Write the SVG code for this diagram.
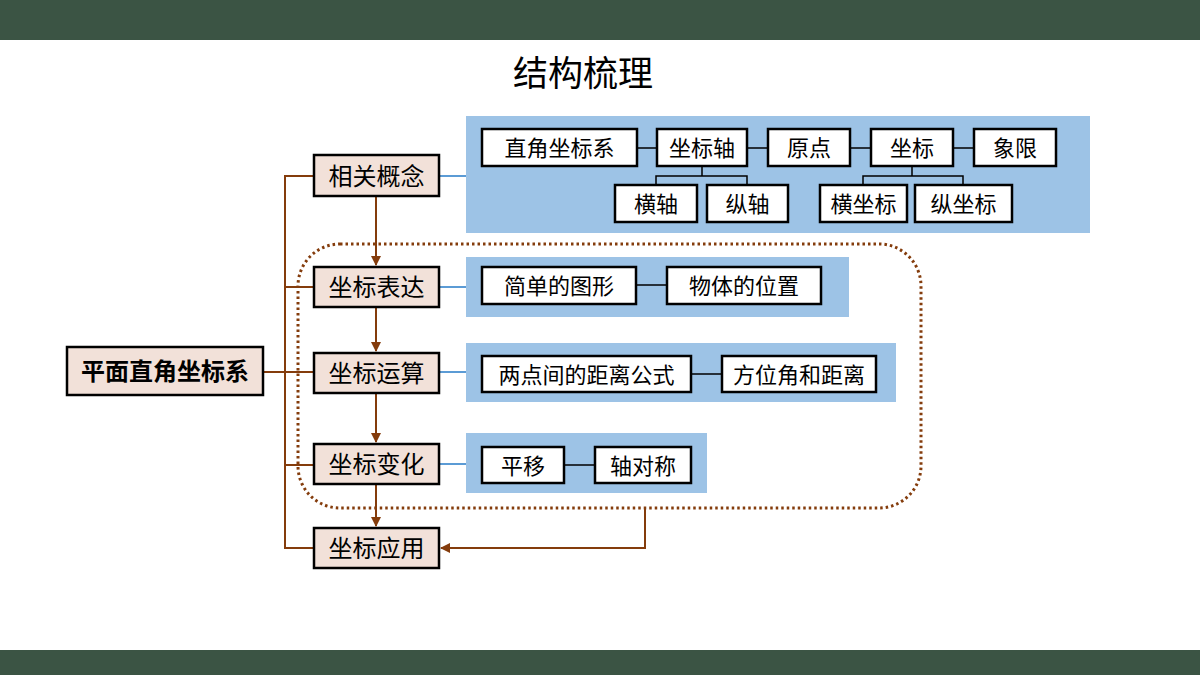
<svg xmlns="http://www.w3.org/2000/svg" width="1200" height="675" viewBox="0 0 1200 675">
<defs>
<style>
.t{font-family:"Noto Sans CJK SC","Liberation Sans",sans-serif;text-anchor:middle;dominant-baseline:central;fill:#000}
.n{fill:#F2E1D9;stroke:#000;stroke-width:2.5}
.b{fill:#fff;stroke:#000;stroke-width:2.5}
.p{fill:#9DC3E6}
.br{fill:none;stroke:#843C0C;stroke-width:2}
.bl{fill:none;stroke:#5B9BD5;stroke-width:2}
.k{fill:none;stroke:#000;stroke-width:1.5}
</style>
<marker id="ah" viewBox="0 0 10 10" refX="9" refY="5" markerWidth="5" markerHeight="5" orient="auto"><path d="M0,0 L10,5 L0,10 z" fill="#843C0C"/></marker>
</defs>
<rect x="0" y="0" width="1200" height="40" fill="#3B5444"/>
<rect x="0" y="650" width="1200" height="25" fill="#3B5444"/>
<text class="t" x="583" y="70" font-size="35">结构梳理</text>

<g id="panels">
<rect class="p" x="466" y="116" width="624" height="117"/>
<rect class="p" x="466" y="257" width="383" height="60"/>
<rect class="p" x="466" y="343" width="430" height="59"/>
<rect class="p" x="466" y="433" width="241" height="60"/>
</g>

<g id="connectors">
<rect x="298" y="244" width="623" height="264" rx="42" ry="42" fill="none" stroke="#843C0C" stroke-width="3" stroke-dasharray="2.5 3"/>
<path class="br" d="M314,176 H285 V548 H314 M285,287 H314 M263,372 H314 M285,465 H314"/>
<path class="br" d="M376,196 V265" marker-end="url(#ah)"/>
<path class="br" d="M376,307 V351" marker-end="url(#ah)"/>
<path class="br" d="M376,393 V442" marker-end="url(#ah)"/>
<path class="br" d="M376,484 V526" marker-end="url(#ah)"/>
<path class="br" d="M645,508 V548 H441" marker-end="url(#ah)"/>
<path class="bl" d="M439,176 H466 M439,287 H466 M439,372 H466 M439,464 H466"/>
<path class="k" d="M637,148 H657 M747,148 H768 M850,148 H871 M953,148 H974"/>
<path class="k" d="M702,166 V176 M656,185 V176 H747 V185"/>
<path class="k" d="M912,166 V176 M863,185 V176 H963 V185"/>
<path class="k" d="M636,285 H667 M691,374 H722 M564,465 H595"/>
</g>

<g id="n-main"><rect class="n" x="67" y="347" width="196" height="48"/><text class="t" x="165" y="369.5" font-size="24" font-weight="bold">平面直角坐标系</text></g>
<g id="n-gainian"><rect class="n" x="314" y="155" width="125" height="41"/><text class="t" x="376.5" y="174" font-size="24">相关概念</text></g>
<g id="n-biaoda"><rect class="n" x="314" y="267" width="125" height="40"/><text class="t" x="376.5" y="285.5" font-size="24">坐标表达</text></g>
<g id="n-yunsuan"><rect class="n" x="314" y="353" width="125" height="40"/><text class="t" x="376.5" y="371.5" font-size="24">坐标运算</text></g>
<g id="n-bianhua"><rect class="n" x="314" y="444" width="125" height="40"/><text class="t" x="376.5" y="462.5" font-size="24">坐标变化</text></g>
<g id="n-yingyong"><rect class="n" x="314" y="528" width="125" height="40"/><text class="t" x="376.5" y="546.5" font-size="24">坐标应用</text></g>

<g id="b1"><rect class="b" x="482" y="129" width="155" height="37"/><text class="t" x="559.5" y="146" font-size="22">直角坐标系</text></g>
<g id="b2"><rect class="b" x="657" y="129" width="90" height="37"/><text class="t" x="702" y="146" font-size="22">坐标轴</text></g>
<g id="b3"><rect class="b" x="768" y="129" width="82" height="37"/><text class="t" x="809" y="146" font-size="22">原点</text></g>
<g id="b4"><rect class="b" x="871" y="129" width="82" height="37"/><text class="t" x="912" y="146" font-size="22">坐标</text></g>
<g id="b5"><rect class="b" x="974" y="129" width="82" height="37"/><text class="t" x="1015" y="146" font-size="22">象限</text></g>
<g id="b6"><rect class="b" x="615" y="185" width="82" height="37"/><text class="t" x="656" y="202" font-size="22">横轴</text></g>
<g id="b7"><rect class="b" x="707" y="185" width="81" height="37"/><text class="t" x="747.5" y="202" font-size="22">纵轴</text></g>
<g id="b8"><rect class="b" x="820" y="185" width="87" height="37"/><text class="t" x="863.5" y="202" font-size="22">横坐标</text></g>
<g id="b9"><rect class="b" x="915" y="185" width="97" height="37"/><text class="t" x="963.5" y="202" font-size="22">纵坐标</text></g>
<g id="b10"><rect class="b" x="482" y="267" width="154" height="37"/><text class="t" x="559" y="284" font-size="22">简单的图形</text></g>
<g id="b11"><rect class="b" x="667" y="267" width="154" height="37"/><text class="t" x="744" y="284" font-size="22">物体的位置</text></g>
<g id="b12"><rect class="b" x="482" y="356" width="209" height="36"/><text class="t" x="586.5" y="372.5" font-size="22">两点间的距离公式</text></g>
<g id="b13"><rect class="b" x="722" y="356" width="154" height="36"/><text class="t" x="799" y="372.5" font-size="22">方位角和距离</text></g>
<g id="b14"><rect class="b" x="482" y="447" width="82" height="36"/><text class="t" x="523" y="463.5" font-size="22">平移</text></g>
<g id="b15"><rect class="b" x="595" y="447" width="96" height="36"/><text class="t" x="643" y="463.5" font-size="22">轴对称</text></g>
</svg>
